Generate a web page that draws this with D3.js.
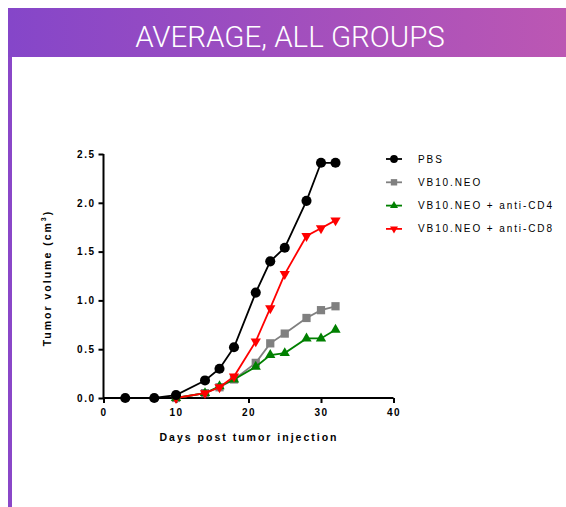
<!DOCTYPE html>
<html><head><meta charset="utf-8">
<script src="https://cdn.jsdelivr.net/npm/d3@7"></script>
<style>
html,body{margin:0;padding:0;background:#fff;}
svg{display:block;}
</style></head>
<body>
<svg id="chart" width="566" height="507"></svg>
<script>
const title = "AVERAGE, ALL GROUPS";
const seriesNames = ["PBS", "VB10.NEO", "VB10.NEO + anti-CD4", "VB10.NEO + anti-CD8"];
const seriesColors = ["#000000", "#808080", "#008000", "#ff0000"];
const pbsDays = [3, 7, 10, 14, 16, 18, 21, 23, 25, 28, 30, 32];
const pbsValues = [0, 0, 0.03, 0.18, 0.30, 0.52, 1.08, 1.40, 1.54, 2.02, 2.41, 2.41];
const treatDays = [10, 14, 16, 18, 21, 23, 25, 28, 30, 32];
const neoValues = [0, 0.05, 0.11, 0.19, 0.36, 0.56, 0.66, 0.82, 0.90, 0.94];
const cd4Values = [0, 0.05, 0.12, 0.19, 0.32, 0.44, 0.46, 0.61, 0.61, 0.70];
const cd8Values = [0, 0.05, 0.11, 0.22, 0.58, 0.92, 1.27, 1.66, 1.74, 1.82];
const xTicks = [0, 10, 20, 30, 40];
const yTicks = [0, 0.5, 1.0, 1.5, 2.0, 2.5];

const svg = d3.select("#chart");
const defs = svg.append("defs");
const grad = defs.append("linearGradient").attr("id","hdr").attr("x1","0").attr("x2","1").attr("y1","0").attr("y2","0");
grad.append("stop").attr("offset","0%").attr("stop-color","#8546c9");
grad.append("stop").attr("offset","100%").attr("stop-color","#bc57b3");

svg.append("rect").attr("x",8).attr("y",8).attr("width",558).attr("height",49).attr("fill","url(#hdr)");
svg.append("rect").attr("x",8).attr("y",57).attr("width",4).attr("height",450).attr("fill","#8a47c8");
svg.append("text").attr("x",290).attr("y",47).attr("text-anchor","middle")
  .attr("fill","#fff").attr("font-family","Roboto, 'Liberation Sans', sans-serif").attr("font-weight",300)
  .attr("font-size",29.5).text(title);

const x = d3.scaleLinear().domain([0,40]).range([103.5,393.5]);
const y = d3.scaleLinear().domain([0,2.5]).range([398,154]);

const font = "'Liberation Sans', Arial, sans-serif";

const xAxis = svg.append("g").attr("transform","translate(0,398)")
  .call(d3.axisBottom(x).tickValues(xTicks).tickSize(5).tickPadding(6).tickFormat(d3.format("d")));
const yAxis = svg.append("g").attr("transform","translate(103.5,0)")
  .call(d3.axisLeft(y).tickValues(yTicks).tickSize(5).tickPadding(3).tickFormat(d3.format(".1f")));
[xAxis,yAxis].forEach(a=>{
  a.select(".domain").attr("stroke","#000").attr("stroke-width",2);
  a.selectAll(".tick line").attr("stroke","#000").attr("stroke-width",2);
  a.selectAll(".tick text").attr("fill","#000").attr("font-family",font).attr("font-weight","bold")
    .attr("font-size",10).attr("letter-spacing","1.5");
});
xAxis.select(".domain").attr("d",`M${x(0)},0H${x(40)}`);
yAxis.select(".domain").attr("d",`M0,${y(0)}V${y(2.5)}`);

svg.append("text").attr("x",249).attr("y",441).attr("text-anchor","middle")
  .attr("font-family",font).attr("font-weight","bold").attr("font-size",10.5).attr("letter-spacing","2")
  .text("Days post tumor injection");
const yl = svg.append("text").attr("transform","translate(51,278) rotate(-90)").attr("text-anchor","middle")
  .attr("font-family",font).attr("font-weight","bold").attr("font-size",10.5).attr("letter-spacing","2");
yl.append("tspan").text("Tumor volume (cm");
yl.append("tspan").attr("dy",-5).attr("font-size",7).text("3");
yl.append("tspan").attr("dy",5).text(")");

const series = [
  {name:seriesNames[1], color:seriesColors[1], days:treatDays, vals:neoValues, sym:d3.symbolSquare},
  {name:seriesNames[2], color:seriesColors[2], days:treatDays, vals:cd4Values, sym:d3.symbolTriangle},
  {name:seriesNames[3], color:seriesColors[3], days:treatDays, vals:cd8Values, sym:d3.symbolTriangle, rot:180},
  {name:seriesNames[0], color:seriesColors[0], days:pbsDays, vals:pbsValues, sym:d3.symbolCircle},
];
const line = d3.line().x(d=>x(d[0])).y(d=>y(d[1]));
function symPath(s, k){
  k = k || 1;
  if(s.sym===d3.symbolCircle) return d3.symbol(s.sym,80*k)();
  if(s.sym===d3.symbolSquare) return d3.symbol(s.sym,68*k)();
  return d3.symbol(s.sym,46*k)();
}
series.forEach(s=>{
  const pts = s.days.map((d,i)=>[d,s.vals[i]]);
  svg.append("path").attr("d",line(pts)).attr("fill","none").attr("stroke",s.color).attr("stroke-width",1.8);
  svg.append("g").selectAll("path").data(pts).join("path")
    .attr("d",symPath(s)).attr("fill",s.color)
    .attr("transform",d=>`translate(${x(d[0])},${y(d[1])})${s.rot?" rotate(180)":""}`);
});

const legendOrder = [3,0,1,2];
legendOrder.forEach((si,i)=>{
  const s = series[si];
  const ly = 159 + i*23.3;
  svg.append("line").attr("x1",386).attr("x2",402).attr("y1",ly).attr("y2",ly).attr("stroke",s.color).attr("stroke-width",1.8);
  svg.append("path").attr("d",symPath(s,0.6)).attr("fill",s.color)
    .attr("transform",`translate(394,${ly})${s.rot?" rotate(180)":""}`);
  svg.append("text").attr("x",418).attr("y",ly+3.5).attr("font-family",font).attr("font-size",10)
    .attr("letter-spacing","1.9").attr("fill","#000").text(s.name);
});
</script>
</body></html>
